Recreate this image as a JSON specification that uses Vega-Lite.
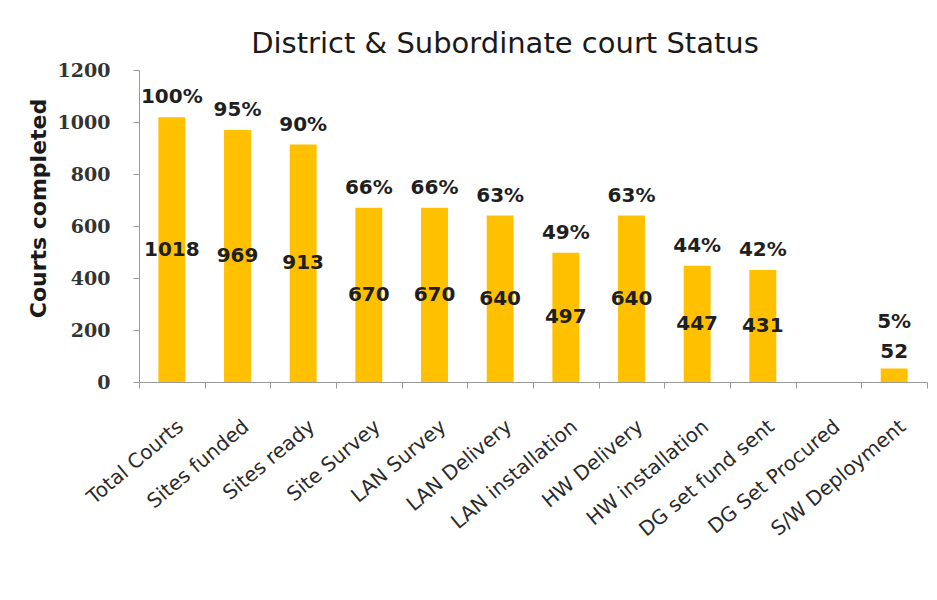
{
  "$schema": "https://vega.github.io/schema/vega-lite/v6.json",
  "width": 788,
  "height": 312,
  "autosize": {"type": "none"},
  "padding": {"left": 139, "top": 70, "right": 10, "bottom": 218},
  "background": "white",
  "title": {
    "text": "District & Subordinate  court Status",
    "font": "DejaVu Sans",
    "fontSize": 29,
    "fontWeight": "normal",
    "color": "#1a1a1a",
    "anchor": "middle",
    "dx": -28,
    "offset": 2
  },
  "data": {
    "values": [
      {"stage": "Total Courts", "value": 1018, "pct": "100%"},
      {"stage": "Sites funded", "value": 969, "pct": "95%"},
      {"stage": "Sites ready", "value": 913, "pct": "90%"},
      {"stage": "Site Survey", "value": 670, "pct": "66%"},
      {"stage": "LAN Survey", "value": 670, "pct": "66%"},
      {"stage": "LAN Delivery", "value": 640, "pct": "63%"},
      {"stage": "LAN installation", "value": 497, "pct": "49%"},
      {"stage": "HW Delivery", "value": 640, "pct": "63%"},
      {"stage": "HW installation", "value": 447, "pct": "44%"},
      {"stage": "DG set fund sent", "value": 431, "pct": "42%"},
      {"stage": "DG Set Procured", "value": 0, "pct": ""},
      {"stage": "S/W Deployment", "value": 52, "pct": "5%"}
    ]
  },
  "encoding": {
    "x": {
      "field": "stage",
      "type": "nominal",
      "sort": null,
      "scale": {"paddingInner": 0, "paddingOuter": 0},
      "axis": {
        "title": null,
        "labelAngle": -40,
        "labelAlign": "right",
        "labelBaseline": "top",
        "labelFont": "DejaVu Sans",
        "labelFontSize": 20,
        "labelColor": "#2a2a2a",
        "labelPadding": 28,
        "labelOffset": 2,
        "labelLimit": 300,
        "tickBand": "extent",
        "tickSize": 6,
        "tickColor": "#9a9a9a",
        "domainColor": "#9a9a9a",
        "labelOverlap": false
      }
    },
    "y": {
      "field": "value",
      "type": "quantitative",
      "scale": {"domain": [0, 1200]},
      "axis": {
        "title": "Courts completed",
        "titleFont": "DejaVu Sans",
        "titleFontSize": 22,
        "titleFontWeight": "bold",
        "titleColor": "#1a1a1a",
        "titleX": -101,
        "titleY": 138,
        "titleAlign": "center",
        "titleBaseline": "middle",
        "titleAngle": -90,
        "values": [0, 200, 400, 600, 800, 1000, 1200],
        "format": "d",
        "labelFont": "DejaVu Serif",
        "labelFontSize": 19,
        "labelFontWeight": "bold",
        "labelColor": "#333333",
        "labelPadding": 23,
        "tickSize": 6,
        "tickColor": "#9a9a9a",
        "domainColor": "#9a9a9a",
        "grid": false
      }
    }
  },
  "layer": [
    {
      "mark": {"type": "bar", "color": "#FFC000", "width": {"band": 0.41}}
    },
    {
      "transform": [{"filter": "datum.value >= 100"}],
      "mark": {"type": "text", "font": "DejaVu Sans", "fontSize": 20, "fontWeight": "bold", "color": "#1f1f1f", "baseline": "middle", "dy": -20},
      "encoding": {"text": {"field": "pct"}}
    },
    {
      "transform": [{"filter": "datum.value >= 100"}, {"calculate": "datum.value / 2", "as": "mid"}],
      "mark": {"type": "text", "font": "DejaVu Sans", "fontSize": 20, "fontWeight": "bold", "color": "#1f1f1f", "baseline": "middle"},
      "encoding": {"y": {"field": "mid", "type": "quantitative"}, "text": {"field": "value", "type": "quantitative"}}
    },
    {
      "transform": [{"filter": "datum.value > 0 && datum.value < 100"}],
      "mark": {"type": "text", "font": "DejaVu Sans", "fontSize": 20, "fontWeight": "bold", "color": "#1f1f1f", "baseline": "middle", "dy": -16},
      "encoding": {"text": {"field": "value", "type": "quantitative"}}
    },
    {
      "transform": [{"filter": "datum.value > 0 && datum.value < 100"}],
      "mark": {"type": "text", "font": "DejaVu Sans", "fontSize": 20, "fontWeight": "bold", "color": "#1f1f1f", "baseline": "middle", "dy": -46},
      "encoding": {"text": {"field": "pct"}}
    }
  ],
  "config": {"view": {"stroke": null}}
}
